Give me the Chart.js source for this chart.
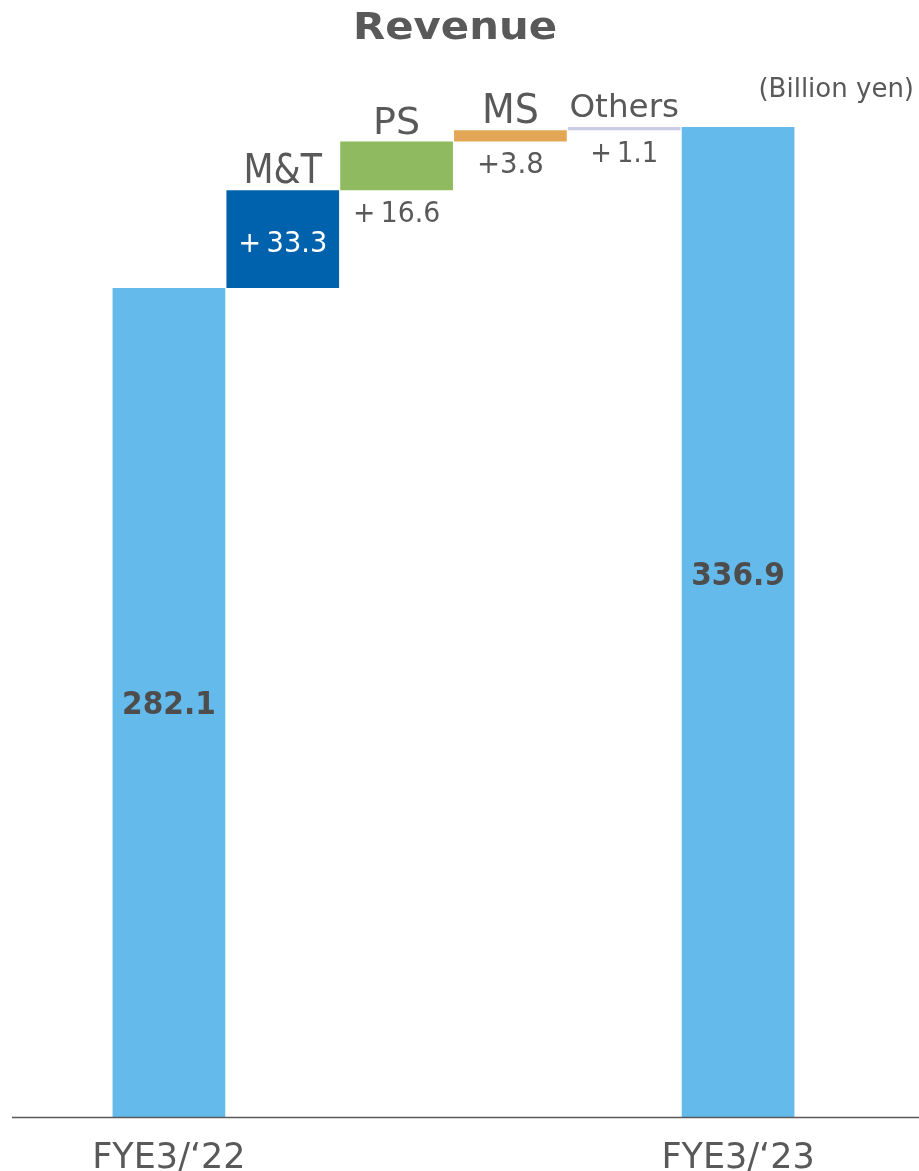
<!DOCTYPE html>
<html>
<head>
<meta charset="utf-8">
<script src="https://cdn.jsdelivr.net/npm/chart.js@4/dist/chart.umd.min.js"></script>
<style>
html,body{margin:0;padding:0;background:#fff;}
#wrap{width:919px;height:1171px;position:relative;}
</style>
</head>
<body>
<div id="wrap"><canvas id="c" width="919" height="1171"></canvas></div>
<script>
// ---- data ----
const categories = ["FYE3/\u201822", "M&T", "PS", "MS", "Others", "FYE3/\u201823"];
const segmentNames = ["", "M&T", "PS", "MS", "Others", ""];
const startTotal = 282.1;
const deltas = [33.3, 16.6, 3.8, 1.1];
const endTotal = 336.9;
const valueTexts = ["282.1", "+\u200933.3", "+\u200916.6", "+3.8", "+\u20091.1", "336.9"];
const barColors = ["#64BAEA", "#0062AC", "#8FBA5F", "#E3A654", "#CBCDE6", "#64BAEA"];

// floating ranges built from the values
const ranges = [[0, startTotal]];
let run = startTotal;
deltas.forEach(d => { const nxt = +(run + d).toFixed(1); ranges.push([run, nxt]); run = nxt; });
ranges.push([0, endTotal]);

const TXT = "#595959";

// draw text with its cap-height middle at capMid, horizontally scaled by sx
function drawText(ctx, str, x, capMid, size, bold, sx, color, align) {
  ctx.save();
  ctx.font = (bold ? "bold " : "") + size + "px 'DejaVu Sans'";
  ctx.fillStyle = color;
  ctx.textAlign = align || "center";
  ctx.textBaseline = "alphabetic";
  ctx.translate(x, capMid + 0.365 * size);
  ctx.scale(sx, 1);
  ctx.fillText(str, 0, 0);
  ctx.restore();
}

const nameStyle = { "M&T": [40, 0.87], "PS": [38, 1.0], "MS": [40, 0.95], "Others": [32, 1.02] };
const deltaSx = [0, 0.94, 0.92, 0.95, 0.89, 0];

const overlay = {
  id: "overlay",
  afterDraw(chart) {
    const ctx = chart.ctx;
    const y = chart.scales.y;
    const meta = chart.getDatasetMeta(0);
    ctx.save();
    // baseline
    const y0 = y.getPixelForValue(0);
    ctx.strokeStyle = "#5a5a5a";
    ctx.lineWidth = 1.5;
    ctx.beginPath(); ctx.moveTo(12, y0 + 0.5); ctx.lineTo(919, y0 + 0.5); ctx.stroke();
    ctx.restore();

    // title and unit
    drawText(ctx, "Revenue", 455, 25, 38, true, 1.1, TXT);
    drawText(ctx, "(Billion yen)", 914, 88, 26, false, 1.0, TXT, "right");

    meta.data.forEach((bar, i) => {
      const x = bar.x;
      const top = Math.min(bar.y, bar.base);
      const bot = Math.max(bar.y, bar.base);
      if (i === 0 || i === categories.length - 1) {
        const frac = i === 0 ? 0.5 : 0.451;
        drawText(ctx, valueTexts[i], x, top + (bot - top) * frac, 31.5, true, 0.94, "#4d4d4d");
      } else {
        const st = nameStyle[segmentNames[i]];
        drawText(ctx, segmentNames[i], x, top - 21.5, st[0], false, st[1], TXT);
        if (i === 1) {
          drawText(ctx, valueTexts[i], x, (top + bot) / 2 + 2, 29, false, deltaSx[i], "#ffffff");
        } else {
          drawText(ctx, valueTexts[i], x, bot + 21, 29, false, deltaSx[i], TXT);
        }
      }
    });
  }
};

new Chart(document.getElementById("c"), {
  type: "bar",
  data: {
    labels: categories,
    datasets: [{
      data: ranges,
      backgroundColor: barColors,
      borderWidth: 0,
      barPercentage: 0.99,
      categoryPercentage: 1.0
    }]
  },
  options: {
    responsive: false,
    animation: false,
    layout: { padding: { left: 112, right: 124, top: 118, bottom: 0 } },
    plugins: { legend: { display: false }, title: { display: false }, tooltip: { enabled: false } },
    scales: {
      x: {
        grid: { display: false, drawTicks: false },
        border: { display: false },
        ticks: {
          color: TXT,
          font: { family: "'DejaVu Sans'", size: 35 },
          padding: 21,
          maxRotation: 0,
          autoSkip: false,
          callback: function(v, i) { return (i === 0 || i === categories.length - 1) ? categories[i] : ""; }
        },
        afterFit: function(s) { s.height = 54; }
      },
      y: {
        display: false,
        min: 0,
        max: 340
      }
    }
  },
  plugins: [overlay]
});
</script>
</body>
</html>
